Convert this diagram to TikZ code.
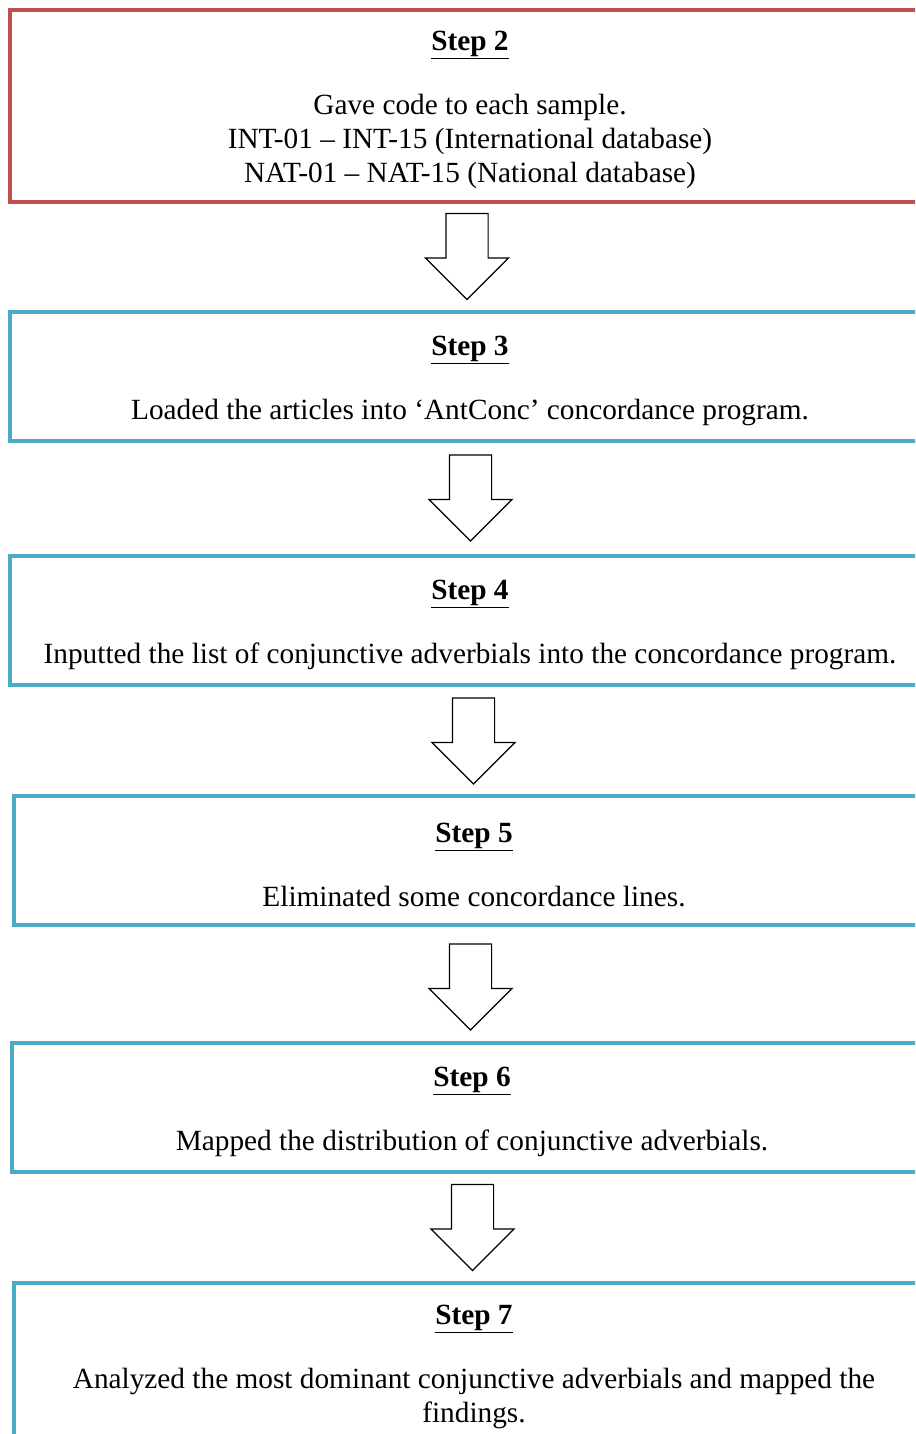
\documentclass[tikz,border=0pt]{standalone}
\usepackage{fontspec}
\setmainfont{Liberation Serif}
\usetikzlibrary{positioning}
\usetikzlibrary{shapes.arrows}
\definecolor{stepred}{RGB}{192,80,77}
\definecolor{stepblue}{RGB}{75,172,198}
\tikzset{stepbox/.style={draw, line width=4pt, minimum width=920pt, align=center, inner sep=0pt, font=\fontsize{29.3}{34}\selectfont}}
\tikzset{downarrow/.style={draw, single arrow, rotate=-90, line width=1.2pt, fill=white, minimum height=86pt, inner xsep=0pt, inner ysep=20.5pt, single arrow head extend=20.5pt}}
\newcommand{\steptitle}[1]{\rule{0pt}{28pt}\textbf{\underline{Step #1}}}

\begin{document}
\begin{tikzpicture}[x=1pt, y=-1pt]
    \clip (0,0) rectangle (915,1434);
    \useasboundingbox (0,0) rectangle (915,1434);

    \node (s2) at (470,106) [stepbox, draw=stepred, minimum height=192pt] {\steptitle{2}\\[30pt] Gave code to each sample.\\ INT-01 -- INT-15 (International database)\\ NAT-01 -- NAT-15 (National database)};
    \node (s3) at (470,376.5) [stepbox, draw=stepblue, minimum height=129pt] {\steptitle{3}\\[30pt] Loaded the articles into `AntConc' concordance program.};
    \node (s4) at (470,620.5) [stepbox, draw=stepblue, minimum height=129pt] {\steptitle{4}\\[30pt] Inputted the list of conjunctive adverbials into the concordance program.};
    \node (s5) at (474,860.5) [stepbox, draw=stepblue, minimum height=129pt] {\steptitle{5}\\[30pt] Eliminated some concordance lines.};
    \node (s6) at (472,1107.5) [stepbox, draw=stepblue, minimum height=129pt] {\steptitle{6}\\[30pt] Mapped the distribution of conjunctive adverbials.};
    \node (s7) at (474,1363) [stepbox, draw=stepblue, minimum height=160pt] {\steptitle{7}\\[30pt] Analyzed the most dominant conjunctive adverbials and mapped the\\ findings.};

    \node (a1) at (467,246) [downarrow] {};
    \node (a2) at (470.5,487.5) [downarrow] {};
    \node (a3) at (473.5,730.5) [downarrow] {};
    \node (a4) at (470.5,976.5) [downarrow] {};
    \node (a5) at (472.5,1217) [downarrow] {};
\end{tikzpicture}
\end{document}
